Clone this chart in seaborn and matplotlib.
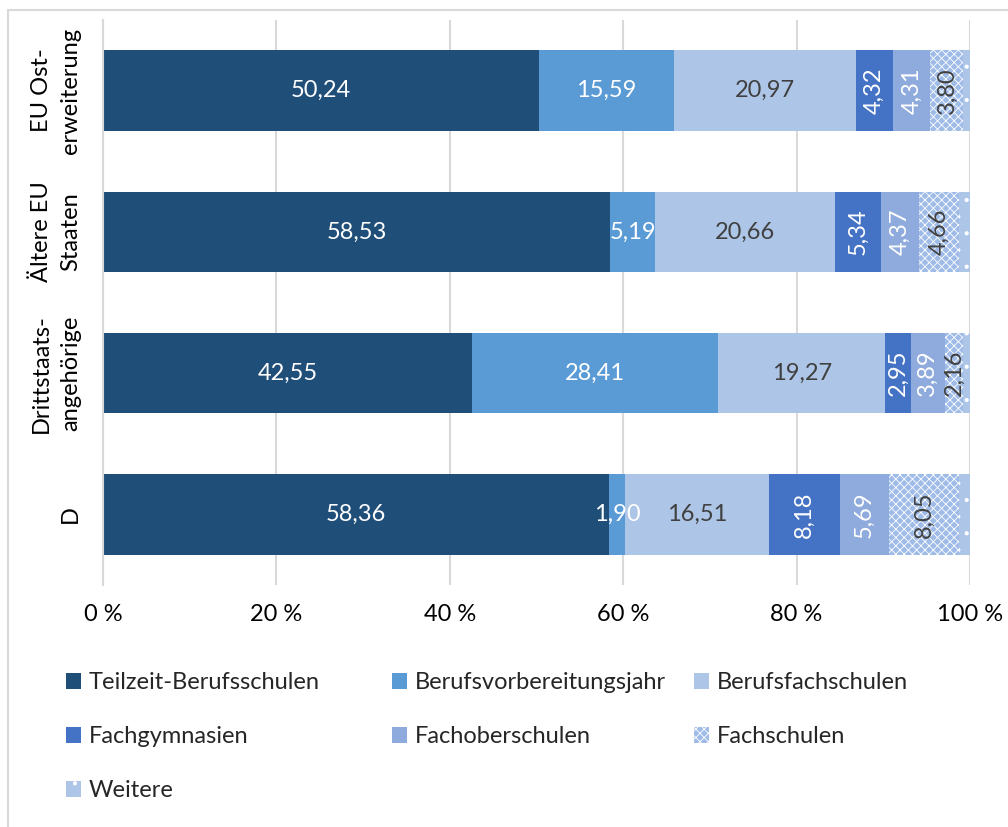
import matplotlib
matplotlib.use("Agg")
import matplotlib.pyplot as plt
import seaborn as sns
import pandas as pd
import numpy as np
from matplotlib.patches import Patch
from matplotlib.lines import Line2D

# ---------------- data ----------------
categories = ["EU Ost-\nerweiterung", "Ältere EU\nStaaten", "Drittstaats-\nangehörige", "D"]
series_names = ["Teilzeit-Berufsschulen", "Berufsvorbereitungsjahr", "Berufsfachschulen",
                "Fachgymnasien", "Fachoberschulen", "Fachschulen", "Weitere"]
teilzeit = [50.24, 58.53, 42.55, 58.36]
berufsvorbereitung = [15.59, 5.19, 28.41, 1.90]
berufsfach = [20.97, 20.66, 19.27, 16.51]
fachgymnasien = [4.32, 5.34, 2.95, 8.18]
fachober = [4.31, 4.37, 3.89, 5.69]
fachschulen = [3.80, 4.66, 2.16, 8.05]
weitere = [0.77, 1.25, 0.77, 1.31]
xtick_values = [0, 20, 40, 60, 80, 100]
xtick_labels = ["0 %", "20 %", "40 %", "60 %", "80 %", "100 %"]

# ---------------- style ----------------
colors = ["#1F4E79", "#5B9BD5", "#ADC5E7", "#4472C4", "#8FAADC", "#9FBBE7", "#ADC5E7"]
hatches = [None, None, None, None, None, "xxxx", "."]
label_colors = ["white", "white", "#404040", "white", "white", "#404040", None]
label_rot = [0, 0, 0, 90, 90, 90, 0]
FS = 17
grid_c = "#D9D9D9"

sns.set_theme(style="white")
plt.rcParams["font.family"] = ["Lato", "DejaVu Sans"]
plt.rcParams["hatch.linewidth"] = 0.6

fig = plt.figure(figsize=(10.08, 8.27), dpi=100)
W, H = 1008, 827
ax = fig.add_axes([103 / W, 1 - 585 / H, (970 - 103) / W, (585 - 20) / H])

series = [teilzeit, berufsvorbereitung, berufsfach, fachgymnasien, fachober, fachschulen, weitere]
vals = np.array(series, dtype=float)
cum = np.cumsum(vals, axis=0)

for i in reversed(range(len(series))):
    df = pd.DataFrame({"cat": categories, "val": cum[i]})
    kw = {}
    if hatches[i]:
        kw = dict(hatch=hatches[i], edgecolor="white")
    sns.barplot(data=df, x="val", y="cat", orient="h", color=colors[i], saturation=1,
                width=0.57, linewidth=0, errorbar=None, ax=ax, **kw)

# data labels
for i in range(len(series)):
    if label_colors[i] is None:
        continue
    for j, cat in enumerate(categories):
        start = cum[i][j] - vals[i][j]
        xc = start + vals[i][j] / 2
        txt = f"{vals[i][j]:.2f}".replace(".", ",")
        ax.text(xc, j, txt, ha="center", va="center", color=label_colors[i],
                fontsize=FS, rotation=label_rot[i])

ax.set_xlim(0, 100)
ax.set_ylim(3.5, -0.5)
ax.set_xticks(xtick_values)
ax.set_xticklabels(xtick_labels, fontsize=FS, color="#000000")
ax.set_yticks(range(len(categories)))
ax.set_yticklabels(categories, fontsize=FS, rotation=90, va="center", ha="right",
                   multialignment="center", linespacing=1.45, color="#000000")
ax.tick_params(axis="both", length=0)
ax.tick_params(axis="x", pad=14)
ax.tick_params(axis="y", pad=16)
ax.set_xlabel("")
ax.set_ylabel("")
ax.xaxis.grid(True, color=grid_c, linewidth=1.5)
ax.yaxis.grid(False)
ax.set_axisbelow(True)
for s in ["top", "right", "bottom"]:
    ax.spines[s].set_visible(False)
ax.spines["left"].set_color(grid_c)
ax.spines["left"].set_linewidth(1.5)

# legend: three columns placed like the reference
handles = []
for i, name in enumerate(series_names):
    if hatches[i]:
        handles.append(Patch(facecolor=colors[i], hatch=hatches[i], edgecolor="white", linewidth=0, label=name))
    else:
        handles.append(Patch(facecolor=colors[i], linewidth=0, label=name))
columns = [[0, 3, 6], [1, 4], [2, 5]]
col_x = [66, 392, 694]
for cx, idxs in zip(col_x, columns):
    fig.legend(handles=[handles[k] for k in idxs], loc="upper left",
               bbox_to_anchor=(cx / W, 1 - 672 / H), bbox_transform=fig.transFigure,
               frameon=False, fontsize=FS, borderpad=0, borderaxespad=0,
               handlelength=0.65, handleheight=0.65, handletextpad=0.3,
               labelspacing=1.4)

# figure frame (partly cropped in the reference)
fig.add_artist(Line2D([8 / W, 1], [1 - 10 / H, 1 - 10 / H], transform=fig.transFigure,
                      color=grid_c, linewidth=1.5))
fig.add_artist(Line2D([8 / W, 8 / W], [0, 1 - 10 / H], transform=fig.transFigure,
                      color=grid_c, linewidth=1.5))

fig.savefig("out.png", dpi=100, facecolor="white")
